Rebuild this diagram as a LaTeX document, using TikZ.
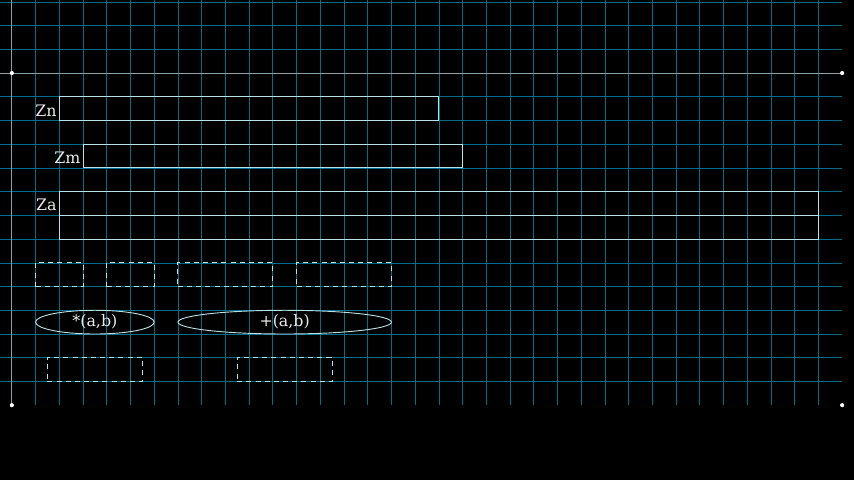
\documentclass[tikz,border=0pt]{standalone}
\usepackage{fontspec}
\setmainfont{DejaVu Serif}
\usetikzlibrary{shapes.geometric}
\definecolor{gridc}{RGB}{0,110,132}
\definecolor{axisc}{RGB}{140,160,165}
\definecolor{edgec}{RGB}{185,225,232}
\definecolor{txtc}{RGB}{235,235,235}
\tikzset{
  bar/.style={draw=edgec, line width=1.1pt, inner sep=0pt, outer sep=0pt, anchor=south west, minimum height=1cm},
  dbox/.style={draw=edgec, dashed, dash pattern=on 6pt off 5pt, line width=1.1pt, inner sep=0pt, outer sep=0pt, anchor=south west, minimum height=1cm},
  oval/.style={ellipse, draw=edgec, line width=1.1pt, inner sep=0pt, outer sep=0pt, minimum height=1cm, text=txtc, font=\fontsize{19}{22}\selectfont},
  lbl/.style={text=txtc, font=\fontsize{19}{22}\selectfont, anchor=east, inner sep=3pt, yshift=-2pt},
  dot/.style={circle, fill=white, inner sep=0pt, minimum size=5pt}
}
\begin{document}
\begin{tikzpicture}
\fill[black] (-0.5,-3.154) rectangle (35.5,17.08);
\useasboundingbox (-0.5,-3.154) rectangle (35.5,17.08);
% grid
\foreach \x in {1,...,34} \draw[gridc, line width=0.8pt] (\x,0) -- (\x,17.08);
\foreach \y in {1,...,13,15,16,17} \draw[gridc, line width=0.8pt] (-0.5,\y) -- (35,\y);
\draw[axisc, line width=0.9pt] (0,0) -- (0,17.08);
\draw[axisc, line width=0.9pt] (-0.5,14) -- (35,14);
% corner dots
\node[dot] (c1) at (0,14) {};
\node[dot] (c2) at (35,14) {};
\node[dot] (c3) at (0,0) {};
\node[dot] (c4) at (35,0) {};
% bars
\node[bar, minimum width=16cm] (zn) at (2,12) {};
\node[lbl] (znl) at (zn.west) {Zn};
\node[bar, minimum width=16cm] (zm) at (3,10) {};
\node[lbl] (zml) at (zm.west) {Zm};
\node[bar, minimum width=32cm] (za1) at (2,8) {};
\node[bar, minimum width=32cm] (za2) at (2,7) {};
\node[lbl] (zal) at (za1.west) {Za};
% dashed boxes
\node[dbox, minimum width=2cm] (d1) at (1,5) {};
\node[dbox, minimum width=2cm] (d2) at (4,5) {};
\node[dbox, minimum width=4cm] (d3) at (7,5) {};
\node[dbox, minimum width=4cm] (d4) at (12,5) {};
% ellipses
\node[oval, minimum width=5cm] (e1) at (3.5,3.5) {*(a,b)};
\node[oval, minimum width=9cm] (e2) at (11.5,3.5) {+(a,b)};
% lower dashed boxes
\node[dbox, minimum width=4cm] (r1) at (1.5,1) {};
\node[dbox, minimum width=4cm] (r2) at (9.5,1) {};
\end{tikzpicture}
\end{document}
